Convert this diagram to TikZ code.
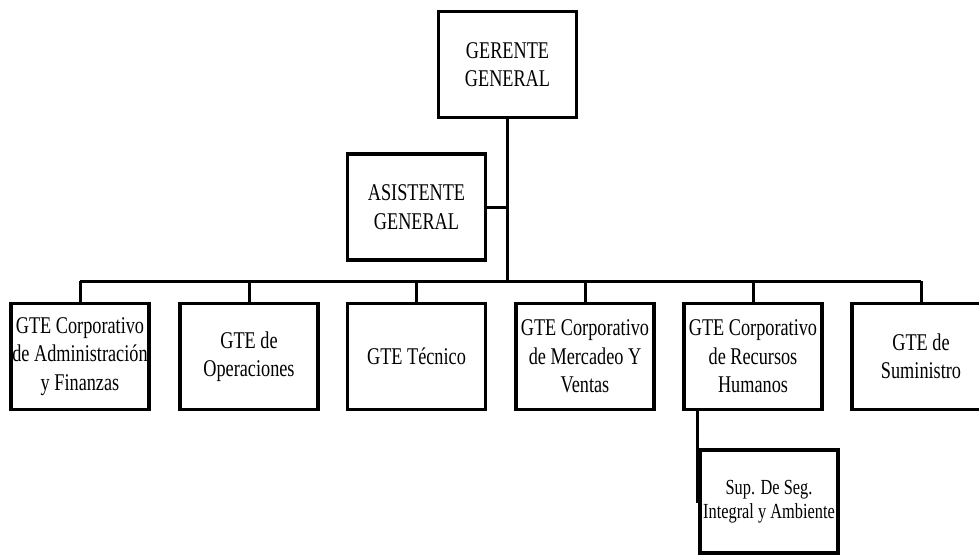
\documentclass[tikz,border=0pt]{standalone}
\usepackage{fontspec}
\setmainfont{Liberation Serif}[FakeStretch=0.76]
\usetikzlibrary{positioning}
\tikzset{
  cargo/.style={draw,line width=3.5pt,minimum width=138pt,minimum height=106pt,
    align=center,inner sep=0pt,font=\fontsize{24}{28.5}\selectfont},
  enlace/.style={line width=3pt}
}

\begin{document}
\begin{tikzpicture}[x=1pt,y=-1pt]
  \clip (0,0) rectangle (979,556);
  \node[cargo] (gerente) at (507.5,64.5) {GERENTE\\GENERAL};
  \node[cargo] (asistente) at (416.5,207) {ASISTENTE\\GENERAL};
  \node[cargo] (admin) at (80,356.5) {GTE Corporativo\\de Administración\\y Finanzas};
  \node[cargo] (oper) at (249,356.5) {GTE de\\Operaciones};
  \node[cargo] (tecnico) at (416.5,356.5) {GTE Técnico};
  \node[cargo] (mercadeo) at (585,356.5) {GTE Corporativo\\de Mercadeo Y\\Ventas};
  \node[cargo] (rrhh) at (753,356.5) {GTE Corporativo\\de Recursos\\Humanos};
  \node[cargo] (suministro) at (921,356.5) {GTE de\\Suministro};
  \node[cargo,minimum height=103pt,font=\fontsize{21.5}{24}\selectfont] (seg) at (769,501.5)
    {Sup. De Seg.\\Integral y Ambiente};
  \coordinate (bus) at (0,281);
  \coordinate (rama) at (697,503);
  \draw[enlace] (gerente.south) -- (gerente.south |- bus);
  \draw[enlace] (asistente.east) -- (asistente.east -| gerente.south);
  \draw[enlace] (admin.north |- bus) -- (suministro.north |- bus);
  \foreach \n in {admin,oper,tecnico,mercadeo,rrhh,suministro}
    \draw[enlace] (\n.north) -- (\n.north |- bus);
  \draw[enlace] (rama |- rrhh.south) -- (rama);
\end{tikzpicture}
\end{document}
